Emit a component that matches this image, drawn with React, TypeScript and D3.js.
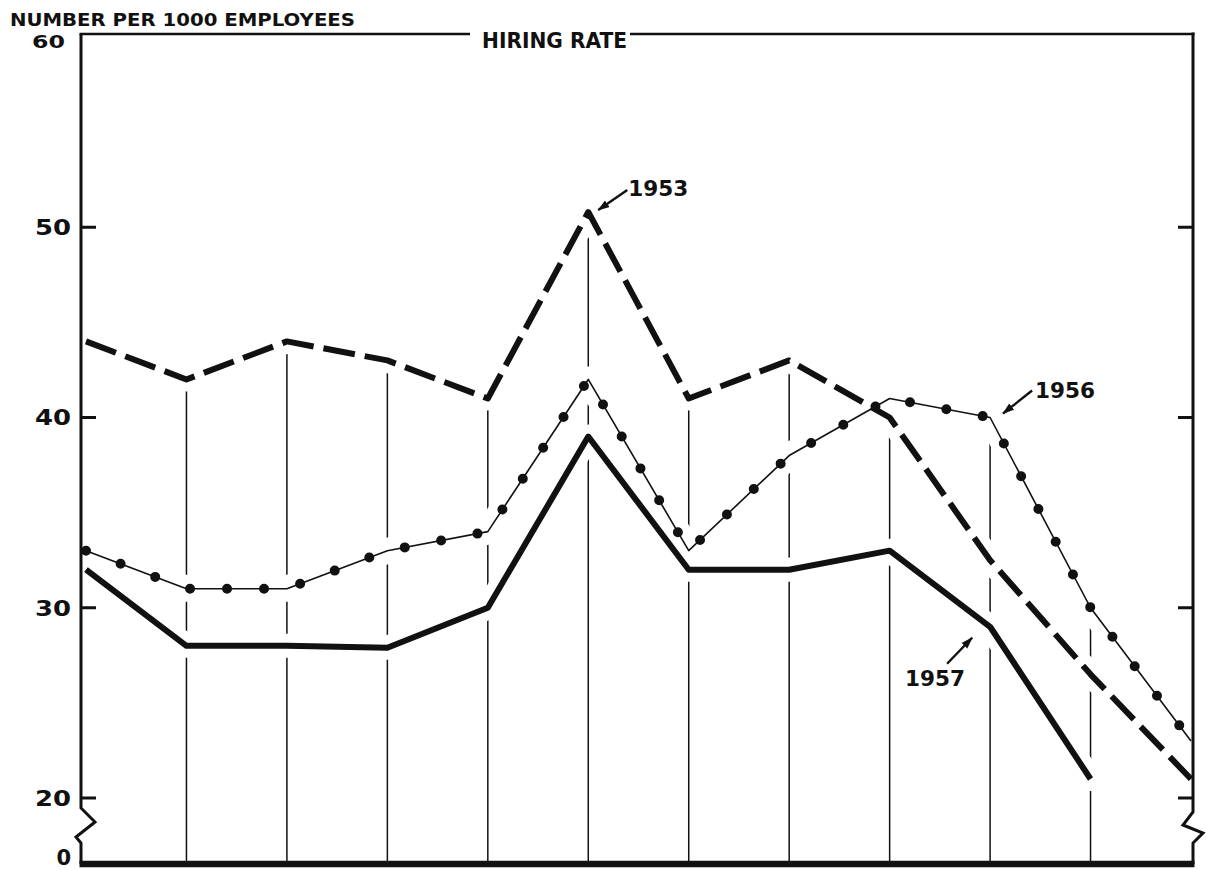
import { useEffect, useRef } from "react";
import * as d3 from "d3";

// monthly hiring rate, number per 1000 employees
const months = ["JAN", "FEB", "MAR", "APR", "MAY", "JUN", "JUL", "AUG", "SEP", "OCT", "NOV", "DEC"];
const rate1953 = [44, 42, 44, 43, 41, 50.8, 41, 43, 40, 32.5, 26.5, 21];
const rate1956 = [33, 31, 31, 33, 34, 42, 33, 38, 41, 40, 30, 23];
const rate1957: (number | null)[] = [32, 28, 28, 27.9, 30, 39, 32, 32, 33, 29, 21, null];
const yTicks = [20, 30, 40, 50, 60];

const INK = "#111";
const FONT = "'DejaVu Sans', Verdana, sans-serif";

type Series = {
  name: string;
  values: (number | null)[];
  width: number;
  dash: string | null;
  halo: number;
  dots?: boolean;
};

const series: Series[] = [
  { name: "1953", values: rate1953, width: 6, dash: "32 10", halo: 24 },
  { name: "1956", values: rate1956, width: 1.6, dash: null, halo: 26, dots: true },
  { name: "1957", values: rate1957, width: 6, dash: null, halo: 24 },
];

// label placement relative to the pointed-at data point (pixels)
const notes = [
  { label: "1953", month: 5, values: rate1953, head: [10, -2], tail: [39, -22], text: [40, -16] },
  { label: "1956", month: 9, values: rate1956, head: [13, -4], tail: [42, -27], text: [45, -20] },
  { label: "1957", month: 9, values: rate1957, head: [-18, 11], tail: [-43, 37], text: [-85, 59] },
];

export default function App() {
  const ref = useRef<SVGSVGElement>(null);

  useEffect(() => {
    if (!ref.current) return;
    const svg = d3.select(ref.current);
    svg.selectAll("*").remove();

    const W = 1206;
    const H = 870;
    const x = d3.scaleLinear().domain([0, months.length - 1]).range([86, 1191]);
    const y = d3.scaleLinear().domain([20, 60]).range([798, 37]);
    const baseY = y(20) + 66;
    const frameL = x(0) - 5;
    const frameR = x(months.length - 1) + 2;
    const frameT = y(60) - 3;

    svg.append("rect").attr("width", W).attr("height", H).attr("fill", "#fff");

    svg
      .append("defs")
      .append("marker")
      .attr("id", "arrow")
      .attr("markerUnits", "userSpaceOnUse")
      .attr("markerWidth", 12)
      .attr("markerHeight", 10)
      .attr("refX", 11)
      .attr("refY", 4)
      .attr("orient", "auto")
      .append("path")
      .attr("d", "M0,0 L12,4 L0,8 Z")
      .attr("fill", INK);

    // vertical month rules, up to the highest line
    const tops = months.map((_, i) => d3.max(series, (s) => s.values[i] ?? -Infinity) as number);
    svg
      .append("g")
      .selectAll("line")
      .data(months.map((_, i) => i).slice(1, -1))
      .join("line")
      .attr("x1", (i) => x(i))
      .attr("x2", (i) => x(i))
      .attr("y1", baseY)
      .attr("y2", (i) => y(tops[i]))
      .attr("stroke", INK)
      .attr("stroke-width", 1.5);

    const line = d3
      .line<number | null>()
      .defined((v) => v != null)
      .x((_, i) => x(i))
      .y((v) => y(v as number));

    // white halos so the rules break around the curves
    svg
      .append("g")
      .selectAll("path")
      .data(series)
      .join("path")
      .attr("d", (s) => line(s.values))
      .attr("fill", "none")
      .attr("stroke", "#fff")
      .attr("stroke-width", (s) => s.halo)
      .attr("stroke-linejoin", "round")
      .attr("stroke-linecap", "round");

    // frame
    const b = y(20);
    svg
      .append("path")
      .attr(
        "d",
        `M${frameL},${frameT} L${frameL},${b + 10} L${frameL + 14},${b + 24} L${frameL - 5},${b + 39} L${frameL},${b + 45} L${frameL},${baseY}`,
      )
      .attr("fill", "none")
      .attr("stroke", INK)
      .attr("stroke-width", 3);
    svg
      .append("path")
      .attr(
        "d",
        `M${frameR},${frameT - 1.5} L${frameR},${b + 14} L${frameR - 10},${b + 27} L${frameR + 10},${b + 35} L${frameR},${b + 45} L${frameR},${baseY}`,
      )
      .attr("fill", "none")
      .attr("stroke", INK)
      .attr("stroke-width", 3);

    svg
      .append("line")
      .attr("x1", frameL - 1.5)
      .attr("x2", frameR + 1.5)
      .attr("y1", baseY)
      .attr("y2", baseY)
      .attr("stroke", INK)
      .attr("stroke-width", 6.5);

    // title sits in a gap of the top rule
    const title = svg
      .append("text")
      .attr("x", 482)
      .attr("y", 48)
      .attr("font-family", FONT)
      .attr("font-weight", 700)
      .attr("font-size", 21)
      .attr("textLength", 145)
      .attr("lengthAdjust", "spacingAndGlyphs")
      .attr("fill", INK)
      .text("HIRING RATE");
    const tb = (title.node() as SVGTextElement).getBBox();
    svg
      .append("path")
      .attr("d", `M${frameL - 1.5},${frameT} H${tb.x - 12} M${tb.x + tb.width + 3},${frameT} H${frameR + 1.5}`)
      .attr("stroke", INK)
      .attr("stroke-width", 2.6);

    svg
      .append("text")
      .attr("x", 10)
      .attr("y", 26)
      .attr("font-family", FONT)
      .attr("font-weight", 700)
      .attr("font-size", 17)
      .attr("textLength", 345)
      .attr("lengthAdjust", "spacingAndGlyphs")
      .attr("fill", INK)
      .text("NUMBER PER 1000 EMPLOYEES");

    // ticks on both sides
    const inner = yTicks.filter((t) => t < 60);
    svg
      .append("g")
      .selectAll("path")
      .data(inner)
      .join("path")
      .attr("d", (t) => `M${frameL},${y(t)} h15 M${frameR},${y(t)} h-15`)
      .attr("stroke", INK)
      .attr("stroke-width", 3);

    svg
      .append("g")
      .selectAll("text")
      .data(inner)
      .join("text")
      .attr("x", 71)
      .attr("y", (t) => y(t))
      .attr("dy", "0.36em")
      .attr("text-anchor", "end")
      .attr("font-family", FONT)
      .attr("font-weight", 700)
      .attr("font-size", 22)
      .attr("textLength", 36)
      .attr("lengthAdjust", "spacingAndGlyphs")
      .attr("fill", INK)
      .text((t) => String(t));

    // top label sits a little under the rule
    svg
      .append("text")
      .attr("x", 65)
      .attr("y", y(60) + 5)
      .attr("dy", "0.36em")
      .attr("text-anchor", "end")
      .attr("font-family", FONT)
      .attr("font-weight", 700)
      .attr("font-size", 18)
      .attr("textLength", 33)
      .attr("lengthAdjust", "spacingAndGlyphs")
      .attr("fill", INK)
      .text(String(yTicks[yTicks.length - 1]));

    svg
      .append("text")
      .attr("x", 71)
      .attr("y", baseY - 7)
      .attr("dy", "0.36em")
      .attr("text-anchor", "end")
      .attr("font-family", FONT)
      .attr("font-weight", 700)
      .attr("font-size", 21)
      .attr("fill", INK)
      .text("0");

    // the three years
    series.forEach((s) => {
      const p = svg
        .append("path")
        .attr("d", line(s.values))
        .attr("fill", "none")
        .attr("stroke", INK)
        .attr("stroke-width", s.width)
        .attr("stroke-linejoin", "round");
      if (s.dash) p.attr("stroke-dasharray", s.dash);
      if (s.dots) {
        svg
          .append("path")
          .attr("d", line(s.values))
          .attr("fill", "none")
          .attr("stroke", INK)
          .attr("stroke-width", 10)
          .attr("stroke-linecap", "round")
          .attr("stroke-dasharray", "0 37");
      }
    });

    // year labels with arrows
    notes.forEach((n) => {
      const px = x(n.month);
      const py = y(n.values[n.month] as number);
      svg
        .append("line")
        .attr("x1", px + n.tail[0])
        .attr("y1", py + n.tail[1])
        .attr("x2", px + n.head[0])
        .attr("y2", py + n.head[1])
        .attr("stroke", INK)
        .attr("stroke-width", 2.4)
        .attr("marker-end", "url(#arrow)");
      svg
        .append("text")
        .attr("x", px + n.text[0])
        .attr("y", py + n.text[1])
        .attr("font-family", FONT)
        .attr("font-weight", 700)
        .attr("font-size", 22)
        .attr("textLength", 60)
        .attr("lengthAdjust", "spacingAndGlyphs")
        .attr("fill", INK)
        .text(n.label);
    });
  }, []);

  return (
    <svg
      ref={ref}
      width={1206}
      height={870}
      style={{ position: "absolute", left: 0, top: 0, display: "block" }}
    />
  );
}
